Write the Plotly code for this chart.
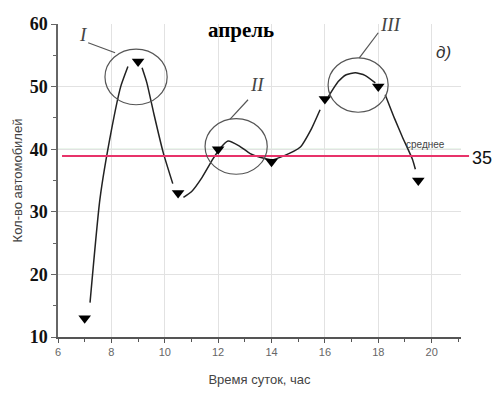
import plotly.graph_objects as go

# measured points (hour, cars)
hours = [7, 9, 10.5, 12, 14, 16, 18, 19.5]
cars = [13, 54, 33, 40, 38, 48, 50, 35]

# hand-drawn trend curve (None = gap)
curve_x = [7.2, 7.57, 8.0, 8.35, 8.62, None,
           9.15, 9.33, 9.6, 9.94, 10.3, None,
           10.7, 11.0, 11.4, 11.8, 12.05, 12.37, 12.8, 13.2, 13.57, 14.0, 14.44, 15.07, 15.5, 15.82, None,
           16.13, 16.5, 16.8, 17.14, 17.5, 17.89, None,
           18.26, 18.6, 18.9, 19.28, 19.39]
curve_y = [15.5, 32, 43, 50, 53.2, None,
           53, 50.6, 45.5, 39.5, 34.5, None,
           32.3, 33.2, 35.5, 38.4, 40, 41.3, 40.5, 39.3, 38.7, 38.3, 38.9, 40.3, 43.3, 46.3, None,
           48.4, 50.8, 51.9, 52.2, 51.8, 50.6, None,
           48.7, 45, 42, 38.4, 36.8]

mean_level = 38.9
mean_label = "35"

# callout circles: (x0, x1, y0, y1)
circle_labels = ["I", "II", "III"]
circle_boxes = [(7.76, 10.09, 47.1, 56.0), (11.51, 13.84, 36.0, 44.9), (16.12, 18.37, 45.9, 54.6)]
label_pos = [(6.94, 58.3), (13.46, 50.3), (18.49, 60.0)]
leaders = [((7.13, 57.0), (8.14, 55.4)), ((13.12, 47.9), (12.45, 44.8)), ((18.0, 58.6), (17.29, 54.6))]

fig = go.Figure()
fig.add_trace(go.Scatter(x=curve_x, y=curve_y, mode="lines", connectgaps=False,
                         line=dict(color="#222222", width=1.5, shape="spline", smoothing=0.5),
                         hoverinfo="skip", showlegend=False))
fig.add_trace(go.Scatter(x=hours, y=cars, mode="markers",
                         marker=dict(symbol="triangle-down", size=11, color="black"),
                         showlegend=False))

shapes = []
# green-tinted grid at 40
shapes.append(dict(type="line", xref="x", yref="y", x0=6, x1=21.1, y0=40, y1=40,
                   line=dict(color="#bfe3c0", width=1), layer="below"))
# mean line
shapes.append(dict(type="line", xref="paper", yref="y", x0=0.01, x1=1.02, y0=mean_level, y1=mean_level,
                   line=dict(color="#e8336a", width=2)))
for (x0, x1, y0, y1) in circle_boxes:
    shapes.append(dict(type="circle", xref="x", yref="y", x0=x0, x1=x1, y0=y0, y1=y1,
                       line=dict(color="#555555", width=1.2)))
for (a, b) in leaders:
    shapes.append(dict(type="line", xref="x", yref="y", x0=a[0], y0=a[1], x1=b[0], y1=b[1],
                       line=dict(color="#555555", width=1.2)))

annotations = []
for lab, (lx, ly) in zip(circle_labels, label_pos):
    annotations.append(dict(x=lx, y=ly, xref="x", yref="y", text=f"<i>{lab}</i>", showarrow=False,
                            font=dict(family="Liberation Serif", size=19, color="#444444")))
annotations.append(dict(x=0.455, y=0.98, xref="paper", yref="paper", yanchor="middle", text="<b>апрель</b>",
                        showarrow=False, font=dict(family="Liberation Serif", size=21, color="black")))
annotations.append(dict(x=0.98, y=0.91, xref="paper", yref="paper", yanchor="middle", text="<i>д)</i>",
                        showarrow=False, font=dict(family="Liberation Sans", size=17, color="#333333")))
annotations.append(dict(x=0.965, y=mean_level + 1.8, xref="paper", yref="y", text="среднее",
                        showarrow=False, font=dict(family="Liberation Sans", size=10, color="#444444")))
annotations.append(dict(x=1.0, y=mean_level - 0.3, xref="paper", yref="y", xanchor="left", xshift=9,
                        text=mean_label, showarrow=False,
                        font=dict(family="Liberation Sans", size=18, color="#111111")))

fig.update_layout(
    width=496, height=397,
    margin=dict(l=58, r=35, t=24, b=58),
    plot_bgcolor="white", paper_bgcolor="white",
    shapes=shapes, annotations=annotations,
    xaxis=dict(range=[6, 21.1], tickmode="array", tickvals=[6, 8, 10, 12, 14, 16, 18, 20],
               showgrid=True, gridcolor="#e2e2e2", gridwidth=1, zeroline=False,
               showline=True, linecolor="#555555", linewidth=2,
               ticks="outside", ticklen=4, tickcolor="#555555",
               minor=dict(tickvals=[7, 9, 11, 13, 15, 17, 19, 21], ticks="outside", ticklen=3, tickcolor="#555555"),
               tickfont=dict(family="Liberation Sans", size=11, color="#666666"),
               title=dict(text="Время суток, час", font=dict(family="Liberation Sans", size=13, color="#444444"),
                          standoff=18)),
    yaxis=dict(range=[10, 60], tickmode="array", tickvals=[10, 20, 30, 40, 50, 60],
               showgrid=True, gridcolor="#e2e2e2", gridwidth=1, zeroline=False,
               showline=True, linecolor="#666666", linewidth=1.5,
               ticks="outside", ticklen=5, tickcolor="#666666",
               minor=dict(tickvals=[15, 25, 35, 45, 55], ticks="outside", ticklen=3, tickcolor="#666666"),
               tickfont=dict(family="Liberation Serif", size=18, color="#111111", weight="bold"),
               title=dict(text="Кол-во автомобилей", font=dict(family="Liberation Sans", size=13, color="#444444"),
                          standoff=4)),
)

fig.write_html("out.html")
